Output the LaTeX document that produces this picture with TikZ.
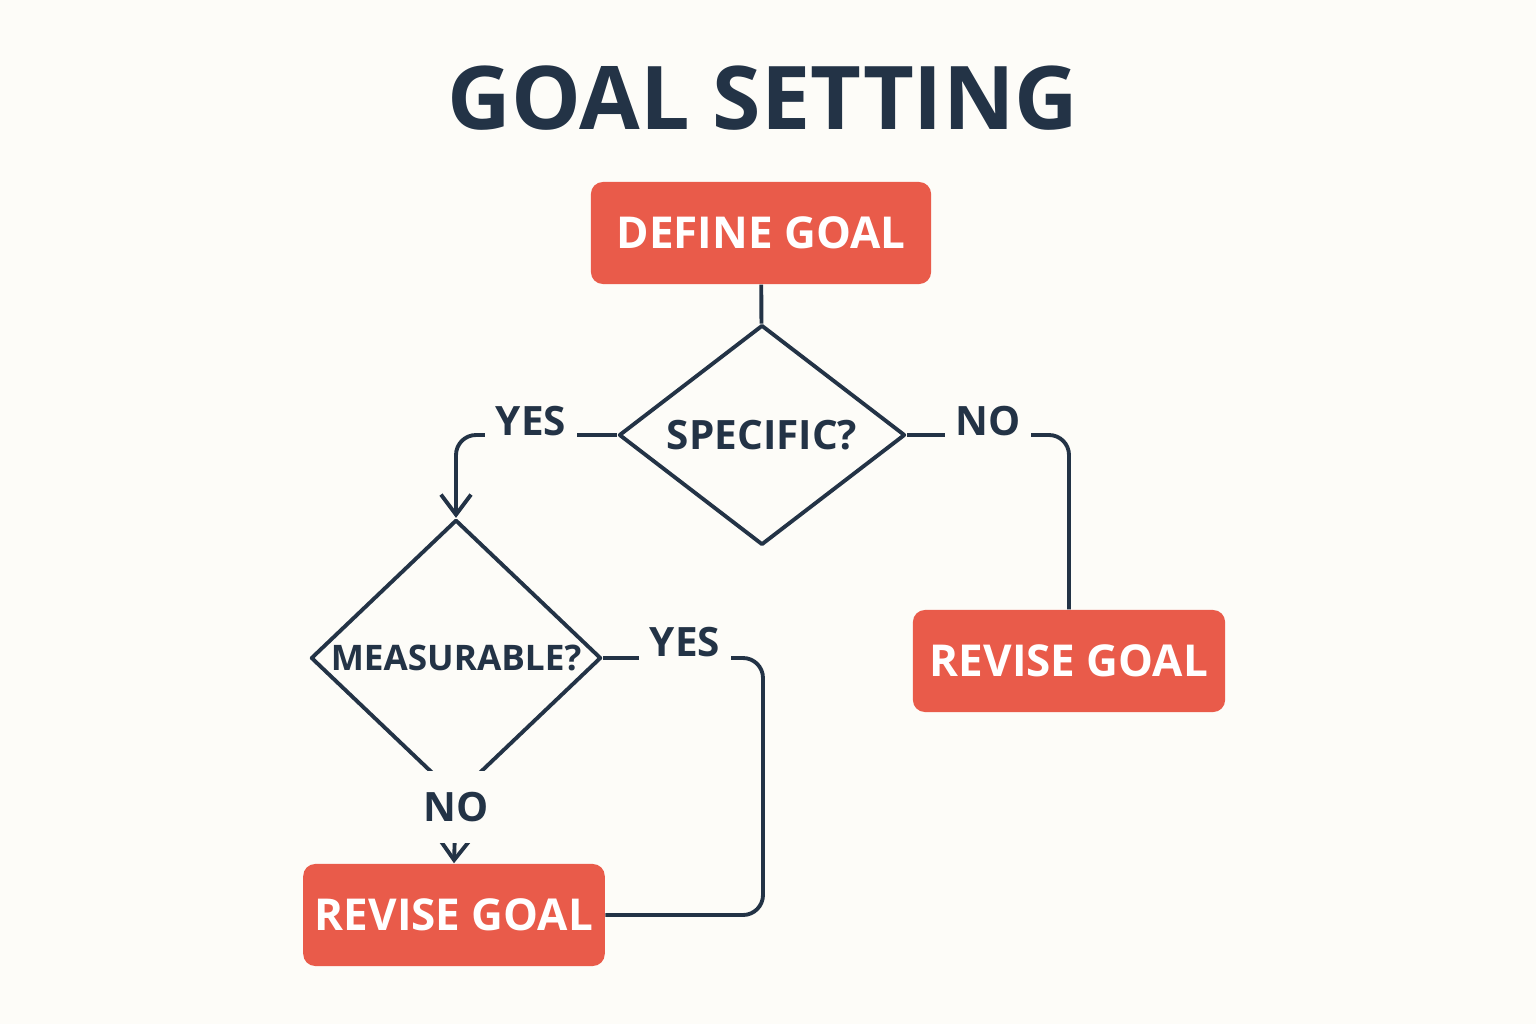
\documentclass[tikz,border=0pt]{standalone}
\usepackage{fontspec}
\setmainfont{Open Sans}
\usetikzlibrary{arrows.meta,shapes.geometric}
\definecolor{bgc}{HTML}{FDFCF8}
\definecolor{navy}{HTML}{233346}
\definecolor{boxred}{HTML}{E95B4A}
\begin{document}
\begin{tikzpicture}[x=0.01cm, y=-0.01cm,
      font=\bfseries,
      box/.style={fill=boxred, rounded corners=1.2mm, text=white, font=\fontsize{12.5}{14}\selectfont\bfseries, minimum width=3.4cm, minimum height=1.02cm},
      dec/.style={draw=navy, line width=1.1pt, shape=diamond, inner sep=0pt, text=navy, line join=round},
      lbl/.style={fill=bgc, text=navy, font=\fontsize{11.5}{13}\selectfont\bfseries, inner sep=3pt, text depth=0pt},
      conn/.style={draw=navy, line width=1.1pt, rounded corners=2mm},
      >={Straight Barb[length=2mm,width=3mm]}
    ]
    \fill[bgc] (0,0) rectangle (1536,1024);
    % Title
    \node[text=navy, font=\fontsize{25}{30}\selectfont\bfseries] (title) at (763,98) {GOAL SETTING};

    % Boxes
    \node[box] (define) at (761,233) {DEFINE GOAL};
    \node[box, minimum width=3.12cm] (revR) at (1069,661) {REVISE GOAL};
    \node[box, minimum width=2.95cm] (revL) at (454,915) {REVISE GOAL};

    % Decisions
    \node[dec, minimum width=2.86cm, minimum height=2.03cm, font=\fontsize{11.5}{13}\selectfont\bfseries] (spec) at (762,435) {SPECIFIC?};
    \node[dec, minimum width=2.9cm, minimum height=2.09cm, font=\fontsize{10}{12}\selectfont\bfseries] (meas) at (456,658) {MEASURABLE?};

    % Connectors
    \draw[conn] (define) -- (spec);
    \draw[conn, ->] (spec.west) -| (meas.north);
    \node[lbl] (yes1) at (531,421) {YES};
    \coordinate (cR) at (1068,435);
    \draw[conn] (spec.east) -| (revR.north);
    \node[lbl] (no1) at (988,421) {NO};
    \coordinate (cL) at (763,658);
    \draw[conn] (meas.east) -- (cL) |- (revL.east);
    \node[lbl] (yes2) at (685,642) {YES};
    \draw[conn, ->] (meas.south) -- (revL.north);
    \node[lbl, inner ysep=6pt] (no2) at (456,807) {NO};
\end{tikzpicture}
\end{document}
